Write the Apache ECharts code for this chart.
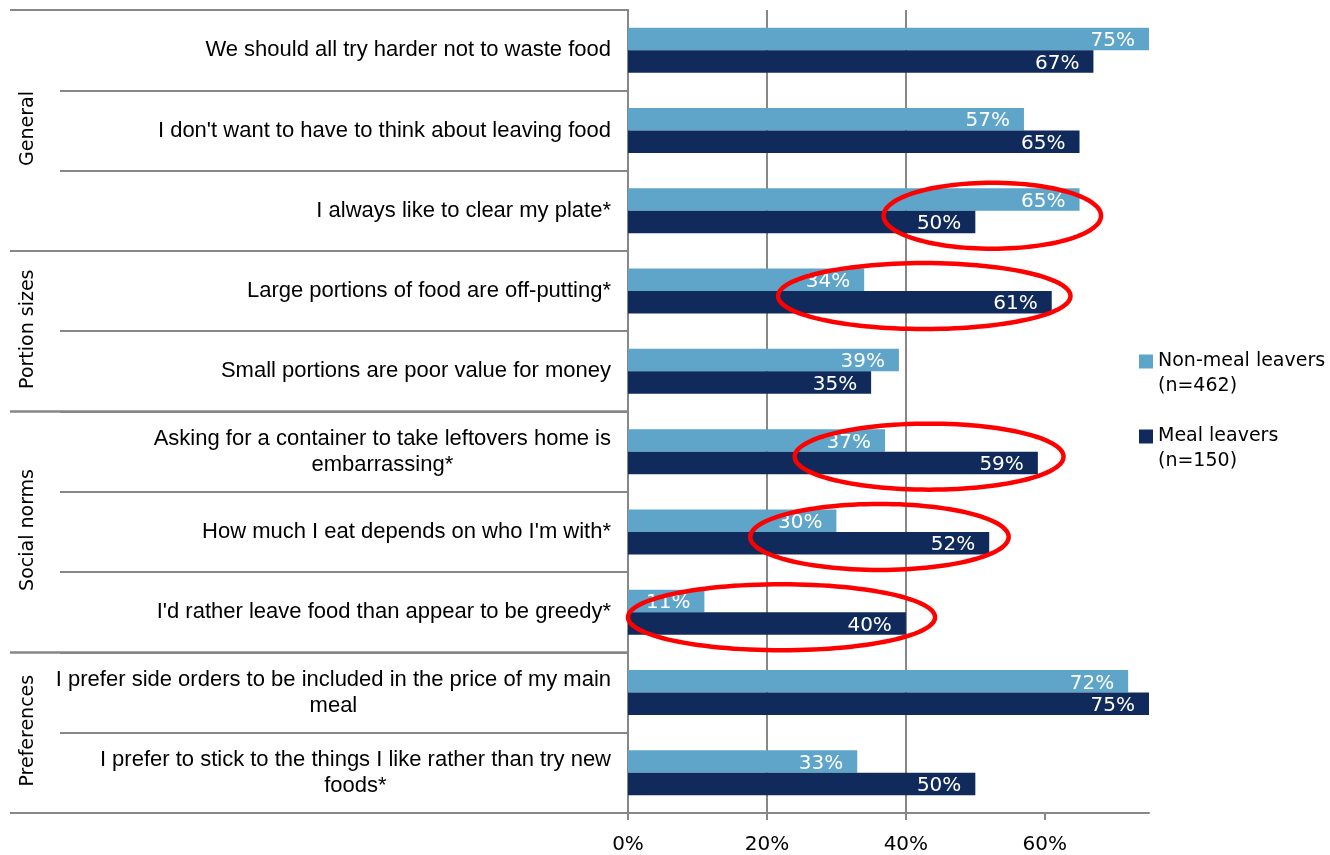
<!DOCTYPE html>
<html>
<head>
<meta charset="utf-8">
<title>Attitudes to food: non-meal leavers vs meal leavers</title>
<script src="https://cdn.jsdelivr.net/npm/echarts@6/dist/echarts.min.js"></script>
<style>
  html, body { margin: 0; padding: 0; background: #fff; }
  #chart { width: 1330px; height: 855px; }
</style>
</head>
<body>
<div id="chart"></div>
<script>
// Statements, top to bottom
const statements = [
  "We should all try harder not to waste food",
  "I don't want to have to think about leaving food",
  "I always like to clear my plate*",
  "Large portions of food are off-putting*",
  "Small portions are poor value for money",
  "Asking for a container to take leftovers home is\nembarrassing*",
  "How much I eat depends on who I'm with*",
  "I'd rather leave food than appear to be greedy*",
  "I prefer side orders to be included in the price of my main\nmeal",
  "I prefer to stick to the things I like rather than try new\nfoods*"
];

// Share agreeing (%)
const nonMealLeavers = [75, 57, 65, 34, 39, 37, 30, 11, 72, 33];
const mealLeavers    = [67, 65, 50, 61, 35, 59, 52, 40, 75, 50];

const seriesNames = ["Non-meal leavers", "Meal leavers"];
const sampleSizes = [462, 150];

// Statement groups: name, first row, number of rows
const groupNames  = ["General", "Portion sizes", "Social norms", "Preferences"];
const groupStarts = [0, 3, 5, 8];
const groupSizes  = [3, 2, 3, 2];

// Rows with a notable gap between the two groups, and the % span circled
const highlightRows = [2, 3, 5, 6, 7];
const highlightFrom = [36.8, 21.6, 24.0, 17.6, 0];
const highlightTo   = [68.1, 63.7, 62.7, 54.8, 44.2];

const xTicks = [0, 20, 40, 60];

const LIGHT = "#5ea5c9";
const DARK = "#112a5c";
const GRID = "#878787";

const chart = echarts.init(document.getElementById("chart"), null, { renderer: "canvas" });

const groupData = groupNames.map((n, i) => [groupStarts[i], groupSizes[i]]);
const ellipseData = highlightRows.map((r, i) => [highlightFrom[i], r, highlightTo[i]]);

function barLabel() {
  return {
    show: true,
    position: "insideRight",
    distance: 14,
    offset: [0, 2],
    color: "#ffffff",
    fontFamily: "DejaVu Sans",
    fontSize: 20,
    formatter: p => p.value + "%"
  };
}

const option = {
  backgroundColor: "#ffffff",
  animation: false,
  grid: { left: 628, right: 181, top: 10, bottom: 42, containLabel: false },
  legend: {
    orient: "vertical",
    left: 1139,
    top: 324,
    padding: 0,
    itemWidth: 14,
    itemHeight: 14,
    itemGap: 0,
    icon: "rect",
    data: seriesNames,
    // leading blank line keeps the swatch level with the first text line
    formatter: name => "\n" + name + "\n(n=" + sampleSizes[seriesNames.indexOf(name)] + ")",
    textStyle: {
      fontFamily: "DejaVu Sans",
      fontSize: 19,
      color: "#000000",
      lineHeight: 25
    }
  },
  xAxis: {
    type: "value",
    min: 0,
    max: 75,
    interval: 20,
    axisLine: { show: true, lineStyle: { color: GRID, width: 2 } },
    axisTick: { show: true, length: 7, customValues: xTicks, lineStyle: { color: GRID, width: 2 } },
    axisLabel: {
      customValues: xTicks,
      formatter: v => v + "%",
      margin: 22,
      fontFamily: "DejaVu Sans",
      fontSize: 20,
      color: "#000000"
    },
    splitLine: { show: true, showMaxLine: false, lineStyle: { color: GRID, width: 2 } }
  },
  yAxis: {
    type: "category",
    inverse: true,
    data: statements,
    axisLine: { show: true, lineStyle: { color: GRID, width: 2 } },
    axisTick: { show: true, length: 568, interval: 0, lineStyle: { color: GRID, width: 2 } },
    axisLabel: {
      interval: 0,
      margin: 17,
      fontFamily: "Liberation Sans",
      fontSize: 22,
      lineHeight: 26,
      color: "#000000",
      formatter: v => v.indexOf("\n") >= 0
        ? v.split("\n").map(s => "{c|" + s + "}").join("\n")
        : v,
      rich: {
        c: { align: "center", fontFamily: "Liberation Sans", fontSize: 22, lineHeight: 26, color: "#000000" }
      }
    },
    splitLine: { show: false }
  },
  series: [
    {
      name: seriesNames[0],
      type: "bar",
      data: nonMealLeavers,
      itemStyle: { color: LIGHT },
      barGap: "0%",
      barCategoryGap: "44%",
      label: barLabel(),
      z: 2
    },
    {
      name: seriesNames[1],
      type: "bar",
      data: mealLeavers,
      itemStyle: { color: DARK },
      barGap: "0%",
      barCategoryGap: "44%",
      label: barLabel(),
      z: 2
    },
    {
      // group boundaries and rotated group names left of the statements
      type: "custom",
      silent: true,
      clip: false,
      encode: { x: -1, y: -1 },
      data: groupData,
      renderItem: (params, api) => {
        const start = api.value(0);
        const size = api.value(1);
        const name = groupNames[params.dataIndex];
        const band = Math.abs(api.size([0, 1])[1]);
        const axisX = api.coord([0, start])[0];
        const yTop = api.coord([0, start])[1] - band / 2;
        const yBot = api.coord([0, start + size - 1])[1] + band / 2;
        const lineStyle = { stroke: GRID, lineWidth: 2 };
        return {
          type: "group",
          children: [
            { type: "line", shape: { x1: axisX - 618, y1: yTop, x2: axisX, y2: yTop }, style: lineStyle },
            { type: "line", shape: { x1: axisX - 618, y1: yBot, x2: axisX, y2: yBot }, style: lineStyle },
            {
              type: "text",
              x: axisX - 600,
              y: (yTop + yBot) / 2 - 2,
              rotation: Math.PI / 2,
              style: {
                text: name,
                fontFamily: "DejaVu Sans",
                fontSize: 19,
                fill: "#000000",
                align: "center",
                verticalAlign: "middle"
              }
            }
          ]
        };
      },
      z: 5
    },
    {
      // red rings marking the rows where the two groups differ most
      type: "custom",
      silent: true,
      clip: false,
      encode: { x: [0, 2], y: 1 },
      data: ellipseData,
      renderItem: (params, api) => {
        const p0 = api.coord([api.value(0), api.value(1)]);
        const p1 = api.coord([api.value(2), api.value(1)]);
        const cx = (p0[0] + p1[0]) / 2;
        const cy = p0[1] + 5;
        const rx = Math.abs(p1[0] - p0[0]) / 2;
        const ry = 33;
        const pts = [];
        for (let k = 0; k < 120; k++) {
          const t = (k / 120) * Math.PI * 2;
          pts.push([cx + rx * Math.cos(t), cy + ry * Math.sin(t)]);
        }
        return {
          type: "polygon",
          shape: { points: pts },
          style: { fill: "none", stroke: "#ff0000", lineWidth: 4.5 }
        };
      },
      z: 10
    }
  ]
};

chart.setOption(option);
</script>
</body>
</html>
